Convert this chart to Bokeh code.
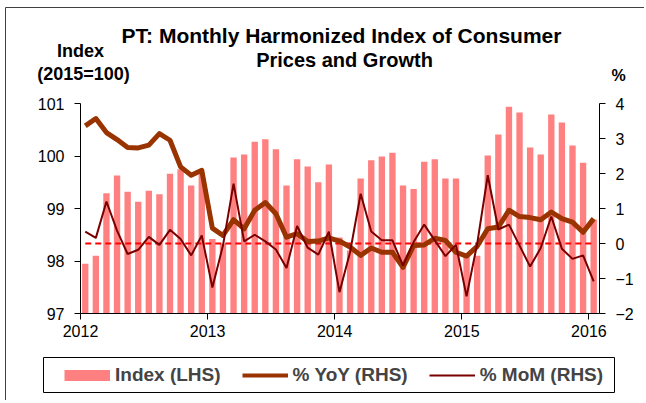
from bokeh.plotting import figure
from bokeh.models import (Range1d, LinearAxis, FixedTicker, Legend, LegendItem,
                          ColumnDataSource, Label)
from bokeh.embed import file_html
from bokeh.resources import INLINE

# ---- data (Jan 2012 .. Jan 2016) ----
years = ["2012", "2013", "2014", "2015", "2016"]
index_lhs = [97.95, 98.10, 99.29, 99.63, 99.32, 99.13, 99.34, 99.27, 99.66, 99.75, 99.44, 99.67,
             98.42, 98.33, 99.97, 100.03, 100.27, 100.32, 100.13, 99.44, 99.94, 99.80, 99.50, 99.84,
             98.45, 98.20, 99.57, 99.92, 99.99, 100.06, 99.44, 99.37, 99.89, 99.94, 99.57, 99.57,
             98.13, 98.10, 100.01, 100.41, 100.94, 100.83, 100.16, 100.03, 100.79, 100.64, 100.20, 99.87,
             98.79]
yoy_rhs = [3.36, 3.57, 3.17, 2.97, 2.74, 2.73, 2.81, 3.14, 2.95, 2.19, 1.95, 2.09,
           0.44, 0.23, 0.68, 0.42, 0.95, 1.17, 0.85, 0.18, 0.28, 0.06, 0.07, 0.16,
           0.07, -0.10, -0.34, -0.13, -0.25, -0.25, -0.68, -0.06, -0.04, 0.15, 0.09, -0.25,
           -0.36, -0.08, 0.42, 0.47, 0.95, 0.77, 0.74, 0.68, 0.90, 0.71, 0.61, 0.32,
           0.71]
mom_rhs = [0.34, 0.16, 1.20, 0.37, -0.30, -0.18, 0.19, -0.04, 0.39, 0.13, -0.34, 0.23,
           -1.26, -0.06, 1.71, 0.06, 0.25, 0.06, -0.17, -0.70, 0.50, -0.12, -0.32, 0.34,
           -1.39, -0.25, 1.42, 0.34, 0.09, 0.09, -0.63, 0.04, 0.54, 0.09, -0.36, -0.04,
           -1.51, -0.01, 1.95, 0.40, 0.54, -0.06, -0.66, -0.13, 0.77, -0.15, -0.44, -0.34,
           -1.08]
left_ticks = [97, 98, 99, 100, 101]
right_ticks = [-2, -1, 0, 1, 2, 3, 4]
series_names = ["Index (LHS)", "% YoY (RHS)", "% MoM (RHS)"]

n = len(index_lhs)
month_pos = [i + 0.45 for i in range(n)]
year_ticks = [12 * k for k in range(len(years))]
X_MIN, X_MAX = 0, n
L_MIN, L_MAX = left_ticks[0], left_ticks[-1]
R_MIN, R_MAX = right_ticks[0], right_ticks[-1]

src = ColumnDataSource(dict(x=month_pos, idx=index_lhs, yoy=yoy_rhs, mom=mom_rhs,
                            zero=[0.0] * n))

FONT = "Liberation Sans"
BAR_C, YOY_C, MOM_C, ZERO_C = "#FF8080", "#993300", "#7A0000", "#FF0000"

# ---- layout (canvas pixels) ----
W, H = 644, 400
PX_L, PX_R, PX_T, PX_B = 80, 599, 103, 313      # plot area edges

kx = (PX_R - PX_L) / (X_MAX - X_MIN)
kl = (PX_B - PX_T) / (L_MAX - L_MIN)
kr = (PX_B - PX_T) / (R_MAX - R_MIN)


def dx(px):
    return X_MIN + (px - PX_L) / kx


def dy(py):
    return L_MIN + (PX_B - py) / kl


p = figure(width=W, height=H, output_backend="svg", toolbar_location=None,
           x_range=Range1d(dx(0), dx(W)), y_range=Range1d(dy(H), dy(0)),
           min_border_left=0, min_border_right=0, min_border_top=0, min_border_bottom=0)
p.extra_y_ranges = {"pct": Range1d(R_MIN - (H - PX_B) / kr, R_MAX + PX_T / kr)}
p.xgrid.visible = False
p.ygrid.visible = False
p.outline_line_color = None
p.background_fill_color = "white"
p.border_fill_color = "white"

p.vbar(x="x", top="idx", bottom=L_MIN, width=0.6, source=src,
       fill_color=BAR_C, line_color=None)
p.line(x="x", y="zero", source=src, y_range_name="pct", line_color=ZERO_C,
       line_width=2, line_dash="6 4")
p.line(x="x", y="yoy", source=src, y_range_name="pct", line_color=YOY_C,
       line_width=5, line_join="round")
p.line(x="x", y="mom", source=src, y_range_name="pct", line_color=MOM_C,
       line_width=2)


def style_axis(ax):
    ax.axis_line_color = "black"
    ax.axis_line_width = 1
    ax.major_tick_line_color = "black"
    ax.major_tick_out = 6
    ax.major_tick_in = 0
    ax.minor_tick_line_color = None
    ax.major_label_text_font = FONT
    ax.major_label_text_font_size = "16px"
    ax.major_label_text_color = "black"


xa = p.xaxis[0]
xa.ticker = FixedTicker(ticks=year_ticks)
xa.major_label_overrides = {t: y for t, y in zip(year_ticks, years)}
xa.fixed_location = L_MIN
xa.bounds = (X_MIN, X_MAX)
style_axis(xa)
xa.major_label_standoff = 5

ya = p.yaxis[0]
ya.ticker = FixedTicker(ticks=left_ticks)
ya.fixed_location = X_MIN
ya.bounds = (L_MIN, L_MAX)
style_axis(ya)
ya.major_label_standoff = 10

ra = LinearAxis(y_range_name="pct", ticker=FixedTicker(ticks=right_ticks),
                fixed_location=X_MAX, bounds=(R_MIN, R_MAX))
style_axis(ra)
ra.major_label_standoff = 10
p.add_layout(ra, "right")

# ---- texts ----
def lab(text, px, py, size):
    p.add_layout(Label(x=dx(px), y=dy(py), text=text, text_font=FONT,
                       text_font_style="bold", text_font_size=size,
                       text_align="center", text_baseline="middle", text_color="black"))


lab("PT: Monthly Harmonized Index of Consumer", 341, 35, "21px")
lab("Prices and Growth", 344, 59, "20px")
lab("Index", 80, 50, "18px")
lab("(2015=100)", 83, 73, "18px")
lab("%", 618, 75, "16px")

# ---- outer frame (top and left edge) ----
p.line(x=[dx(W), dx(5), dx(5)], y=[dy(7), dy(7), dy(H)], line_color="#404040", line_width=1)

# ---- legend ----
BOX_L, BOX_R, BOX_T, BOX_B = 43, 614, 357, 392
p.quad(left=[dx(BOX_L)], right=[dx(BOX_R)], top=[dy(BOX_T)], bottom=[dy(BOX_B)],
       fill_color="white", line_color="black", line_width=1)
nan = float("nan")
bar_sw = p.line(x=[nan], y=[nan], line_color=BAR_C, line_width=11, line_cap="butt")
yoy_sw = p.line(x=[nan], y=[nan], line_color=YOY_C, line_width=4)
mom_sw = p.line(x=[nan], y=[nan], line_color=MOM_C, line_width=2)
legend = Legend(items=[LegendItem(label=series_names[0], renderers=[bar_sw]),
                       LegendItem(label=series_names[1], renderers=[yoy_sw]),
                       LegendItem(label=series_names[2], renderers=[mom_sw])],
                orientation="horizontal", location=(64, H - 386),
                border_line_color=None, background_fill_alpha=0,
                label_text_font=FONT, label_text_font_style="bold",
                label_text_font_size="19px", glyph_width=46, glyph_height=16,
                label_standoff=5, spacing=21, padding=0, margin=0)
p.add_layout(legend, "center")

open("out.html", "w").write(file_html(p, INLINE))
